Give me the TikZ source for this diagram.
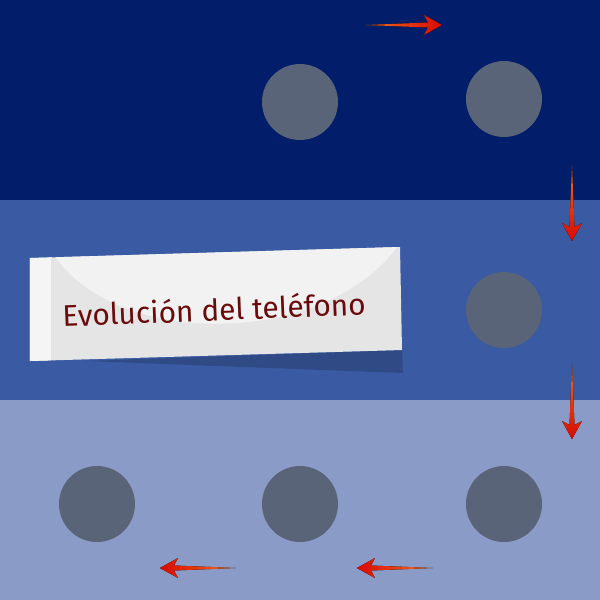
\documentclass[tikz,border=0pt]{standalone}
\usepackage{fontspec}
\newfontfamily\bannerfont{Fira Sans}
\definecolor{bandtop}{RGB}{2,30,106}
\definecolor{bandmid}{RGB}{58,90,163}
\definecolor{bandlow}{RGB}{137,155,198}
\definecolor{dotgray}{RGB}{90,100,120}
\definecolor{arrowtail}{RGB}{245,110,30}
\definecolor{arrowhead}{RGB}{215,10,0}
\definecolor{bannerlight}{RGB}{242,242,242}
\definecolor{bannerdark}{RGB}{229,229,229}
\definecolor{bannerstrip}{RGB}{245,245,246}
\definecolor{bannershadow}{RGB}{47,74,133}
\definecolor{titlered}{RGB}{106,11,11}
\tikzset{
	dot/.style={circle, fill=dotgray, minimum size=1.52cm, inner sep=0pt},
	pics/redarrow/.style={code={
		\fill[#1] (0,0) -- (62,2.5) -- (58,10) -- (76,0) -- (58,-10) -- (62,-2.5) -- cycle;
	}}
}
\begin{document}
\begin{tikzpicture}[x=0.02cm, y=-0.02cm]
	
	% Hintergrund (drei Streifen)
	\fill[bandtop] (0,0) rectangle (600,200);
	\fill[bandmid] (0,200) rectangle (600,400);
	\fill[bandlow] (0,400) rectangle (600,600);
	\useasboundingbox (0,0) rectangle (600,600);
	
	% Kreise
	\node[dot] (c1) at (300,102) {};
	\node[dot] (c2) at (504,99) {};
	\node[dot] (c3) at (504,310) {};
	\node[dot] (c4) at (504,504) {};
	\node[dot] (c5) at (300,504) {};
	\node[dot] (c6) at (97,504) {};
	
	% Pfeile
	\pic at (366,25) {redarrow={left color=arrowtail, right color=arrowhead}};
	\pic[rotate=-90] at (572,165) {redarrow={top color=arrowtail, bottom color=arrowhead}};
	\pic[rotate=-90] at (572,363) {redarrow={top color=arrowtail, bottom color=arrowhead}};
	\pic[rotate=180] at (433,568) {redarrow={left color=arrowhead, right color=arrowtail}};
	\pic[rotate=180] at (236,568) {redarrow={left color=arrowhead, right color=arrowtail}};
	
	% Banner mit Schatten
	\fill[bannershadow] (85,361) -- (402,350) -- (403,373) -- cycle;
	\fill[bannerdark] (30,258) -- (400,247) -- (402,350) -- (30,361) -- cycle;
	\begin{scope}
		\clip (30,258) -- (400,247) -- (402,350) -- (30,361) -- cycle;
		\fill[bannerlight] (51,250) .. controls (110,350) and (330,350) .. (402,240) -- cycle;
	\end{scope}
	\fill[bannerstrip] (30,258) -- (51,257.4) -- (51,360.4) -- (30,361) -- cycle;
	\draw[bannerdark!80!blue!40, line width=0.4pt] (51,257.4) -- (51,360.4);
	
	% Titel
	\node[text=titlered, font=\bannerfont\fontsize{17}{20}\selectfont, rotate=2.3] (title) at (214,309) {Evolución del teléfono};
	
\end{tikzpicture}
\end{document}
